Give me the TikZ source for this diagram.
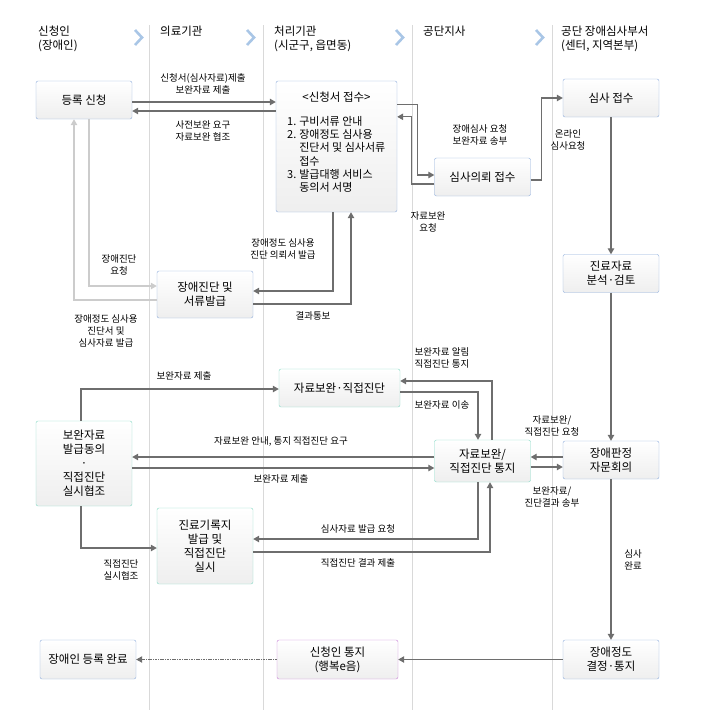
\documentclass[tikz,border=0pt]{standalone}
\usepackage{fontspec}
\setmainfont{Noto Sans CJK KR}
\usetikzlibrary{arrows.meta,positioning}

\definecolor{lane}{HTML}{D9D9D9}
\definecolor{chev}{HTML}{A9C6E6}
\definecolor{bblue}{HTML}{8EADDB}
\definecolor{bgreen}{HTML}{86D9C5}
\definecolor{bpurple}{HTML}{C77FD6}
\definecolor{wire}{HTML}{6E6E6E}
\definecolor{faint}{HTML}{CCCCCC}

\tikzset{
  box/.style={draw=bblue, rounded corners=2pt, top color=white, bottom color=gray!13,
    minimum width=96pt, minimum height=38pt, align=center, inner sep=1pt,
    text=black, font=\fontsize{11.5}{14}\selectfont},
  gbox/.style={box, draw=bgreen},
  pbox/.style={box, draw=bpurple},
  lbl/.style={font=\fontsize{9.5}{12}\selectfont, align=center, inner sep=0pt, text=black},
  hdr/.style={anchor=north west, align=left, inner sep=0pt, text=black,
    font=\fontsize{11.5}{14}\selectfont},
  flow/.style={draw=wire, line width=1.1pt, ->},
  soft/.style={draw=faint, line width=1.1pt, ->},
}

\begin{document}
\begin{tikzpicture}[x=1pt, y=-1pt, >={Triangle[length=6pt,width=6.5pt]}]
  \useasboundingbox (0,0) rectangle (704,710);

  % lanes and headers
  \foreach \lx in {149,263,412,552}
    \draw[lane, line width=0.8pt] (\lx,25) -- (\lx,710);
  \foreach \cx in {139,251,400,540}
    \draw[chev, line width=2.6pt] (\cx-4,30) -- (\cx+3,37.5) -- (\cx-4,45);
  \node[hdr] (hApp) at (38,26) {신청인\\(장애인)};
  \node[hdr] (hMed) at (160,26) {의료기관};
  \node[hdr] (hOff) at (274,26) {처리기관\\(시군구, 읍면동)};
  \node[hdr] (hBr) at (423,26) {공단지사};
  \node[hdr] (hExam) at (561,26) {공단 장애심사부서\\(센터, 지역본부)};

  % boxes
  \node[box] (reg) at (84,100) {등록 신청};
  \node[box, minimum width=121pt, minimum height=131pt] (recv) at (336.5,146.5) {};
  \node[below=11pt of recv.north, inner sep=0pt, text=black,
    font=\fontsize{11.5}{14}\selectfont] (recvT) {<신청서 접수>};
  \node[anchor=north west, inner sep=0pt, text=black,
    font=\fontsize{11}{13.2}\selectfont] (recvL) at (287,116)
    {\begin{tabular}{@{}l@{\hspace{3pt}}l@{}}
      1. & 구비서류 안내\\
      2. & 장애정도 심사용\\
         & 진단서 및 심사서류\\
         & 접수\\
      3. & 발급대행 서비스\\
         & 동의서 서명
    \end{tabular}};
  \node[box] (ask) at (482.5,177) {심사의뢰 접수};
  \node[box] (exam) at (611,98) {심사 접수};
  \node[box, minimum height=47pt] (diag) at (205,294.5) {장애진단 및\\서류발급};
  \node[box] (anal) at (611,273.5) {진료자료\\분석·검토};
  \node[gbox, minimum width=121pt] (direct) at (339.5,388) {자료보완·직접진단};
  \node[gbox, minimum height=85pt] (supp) at (84,463.5)
    {보완자료\\발급동의\\·\\직접진단\\실시협조};
  \node[gbox, minimum height=42pt] (ntc) at (482.5,461) {자료보완/\\직접진단 통지};
  \node[box] (judge) at (611,460) {장애판정\\자문회의};
  \node[gbox, minimum height=76pt] (chart) at (205,546) {진료기록지\\발급 및\\직접진단\\실시};
  \node[box, minimum height=39pt] (done) at (88,659.5) {장애인 등록 완료};
  \node[pbox, minimum width=121pt, minimum height=39pt] (notify) at (337.5,659.5) {신청인 통지\\(행복e음)};
  \node[box, minimum height=39pt] (decide) at (611,659.5) {장애정도\\결정·통지};

  % connectors
  \draw[flow] ([yshift=-2pt]reg.east) -- ([yshift=-2pt]reg.east -| recv.west);
  \draw[flow] ([yshift=-11pt]reg.east -| recv.west) -- ([yshift=-11pt]reg.east);
  \draw[flow] ([yshift=-24pt]recv.north east) -- ++(20pt,0) |- ([yshift=2pt]ask.west);
  \draw[flow] ([yshift=-7pt]ask.west) -- ++(-23pt,0) |- ([yshift=-36pt]recv.north east);
  \draw[flow] ([yshift=-3pt]ask.east) -- ++(11pt,0) |- (exam.west);
  \draw[flow] (exam.south) -- (anal.north);
  \draw[flow] (anal.south) -- (judge.north);
  \draw[flow] (judge.south) -- (decide.north);
  \draw[flow] (decide.west) -- (notify.east);
  \draw[flow, dash pattern=on 1.6pt off 0.8pt, line width=0.9pt] (notify.west) -- (done.east);

  \draw[flow] ([xshift=-3.5pt]recv.south) |- ([yshift=3.5pt]diag.east);
  \draw[flow] ([yshift=-9.5pt]diag.east) -| ([xshift=14.5pt]recv.south);
  \draw[soft] ([xshift=5pt]reg.south) |- ([yshift=8.5pt]diag.west);
  \draw[soft] ([yshift=-5.5pt]diag.west) -| ([xshift=-10pt]reg.south);

  \draw[flow] ([xshift=-3pt]supp.north) |- ([yshift=-1pt]direct.west);
  \draw[flow] ([xshift=9.5pt]ntc.north) |- ([yshift=7pt]direct.east);
  \draw[flow] ([yshift=-4pt]direct.east) -| ([xshift=-4.5pt]ntc.north);
  \draw[flow] ([yshift=4pt]ntc.west) -- ([yshift=4pt]ntc.west -| supp.east);
  \draw[flow] ([yshift=-4.5pt]supp.east) -- ([yshift=-4.5pt]supp.east -| ntc.west);
  \draw[flow] ([yshift=3pt]judge.west) -- ([yshift=3pt]judge.west -| ntc.east);
  \draw[flow] ([yshift=-6pt]ntc.east) -- ([yshift=-6pt]ntc.east -| judge.west);
  \draw[flow] ([xshift=-3pt]supp.south) |- ([yshift=-2pt]chart.west);
  \draw[flow] ([xshift=-4.5pt]ntc.south) |- ([yshift=7pt]chart.east);
  \draw[flow] ([yshift=-6pt]chart.east) -| ([xshift=7.5pt]ntc.south);

  % labels
  \node[lbl] (l1) at (203,84) {신청서(심사자료)제출\\보완자료 제출};
  \node[lbl] (l2) at (203,130.5) {사전보완 요구\\자료보완 협조};
  \node[lbl] (l3) at (480,135) {장애심사 요청\\보완자료 송부};
  \node[lbl] (l4) at (428,221.5) {자료보완\\요청};
  \node[lbl] (l5) at (568,140) {온라인\\심사요청};
  \node[lbl] (l6) at (283,248.5) {장애정도 심사용\\진단 의뢰서 발급};
  \node[lbl] (l7) at (313,316) {결과통보};
  \node[lbl] (l8) at (119,265) {장애진단\\요청};
  \node[lbl] (l9) at (106,330.5) {장애정도 심사용\\진단서 및\\심사자료 발급};
  \node[lbl] (l10) at (184,376) {보완자료 제출};
  \node[lbl, align=left] (l11) at (442,358) {보완자료 알림\\직접진단 통지};
  \node[lbl] (l12) at (442,405) {보완자료 이송};
  \node[lbl] (l13) at (281,441) {자료보완 안내, 통지 직접진단 요구};
  \node[lbl] (l14) at (281,479) {보완자료 제출};
  \node[lbl] (l15) at (552,425.5) {자료보완/\\직접진단 요청};
  \node[lbl] (l16) at (552,497) {보완자료/\\진단결과 송부};
  \node[lbl] (l17) at (121,569.5) {직접진단\\실시협조};
  \node[lbl] (l18) at (358,529) {심사자료 발급 요청};
  \node[lbl] (l19) at (358,563) {직접진단 결과 제출};
  \node[lbl, align=left] (l20) at (633,559.5) {심사\\완료};
\end{tikzpicture}
\end{document}
